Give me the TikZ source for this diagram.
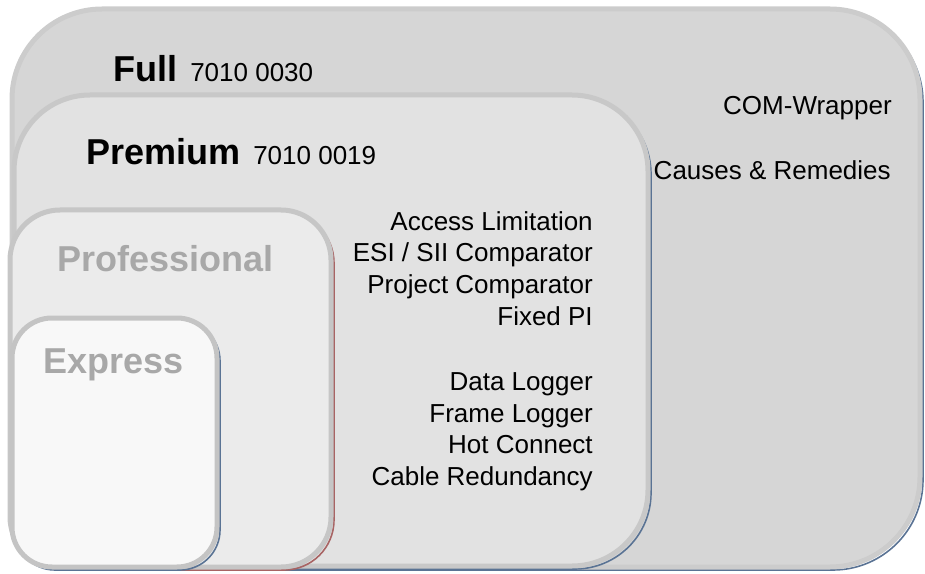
\documentclass[tikz,border=0pt]{standalone}
\usepackage{fontspec}
\setmainfont{Liberation Sans}
\definecolor{fullfill}{HTML}{D6D6D6}
\definecolor{fullline}{HTML}{CCCCCC}
\definecolor{premfill}{HTML}{E2E2E2}
\definecolor{premline}{HTML}{C8C8C8}
\definecolor{proffill}{HTML}{EBEBEB}
\definecolor{profline}{HTML}{C6C6C6}
\definecolor{exprfill}{HTML}{F8F8F8}
\definecolor{exprline}{HTML}{C4C4C4}
\definecolor{shadeblue}{HTML}{5A7394}
\definecolor{shadered}{HTML}{A86464}
\definecolor{fadedtext}{HTML}{A8A8A8}

\begin{document}
\begin{tikzpicture}[x=0.75pt,y=-0.75pt,
		edition/.style={line width=3.75pt},
		rim/.style={line width=1.2pt},
		title/.style={anchor=base west,inner sep=0pt,font=\bfseries\fontsize{27}{32}\selectfont},
		code/.style={anchor=base west,inner sep=0pt,font=\fontsize{19.5}{23}\selectfont},
		feature/.style={anchor=base east,inner sep=0pt,font=\fontsize{19.5}{23}\selectfont}]
				
				\useasboundingbox (0,0) rectangle (925,574);
				
				% Full
				\draw[rim,shadeblue,rounded corners=67.5pt] (15,12) rectangle (923,570);
				\filldraw[edition,draw=fullline,fill=fullfill,rounded corners=67.5pt] (12,9) rectangle (920,567);
				% Premium
				\draw[rim,shadeblue,rounded corners=57pt] (17,98) rectangle (651,569);
				\filldraw[edition,draw=premline,fill=premfill,rounded corners=57pt] (14,95) rectangle (648,566);
				% Professional
				\draw[rim,shadered,rounded corners=37.5pt] (13,213) rectangle (334,570);
				\filldraw[edition,draw=profline,fill=proffill,rounded corners=37.5pt] (10,210) rectangle (331,567);
				% Express
				\draw[rim,shadeblue,rounded corners=30pt] (15,321) rectangle (220,570);
				\filldraw[edition,draw=exprline,fill=exprfill,rounded corners=30pt] (12,318) rectangle (217,567);
				
				\node[title] (full) at (113,82) {Full};
				\node[code] (fullcode) at (190,82) {7010 0030};
				\node[title] (premium) at (86,165) {Premium};
				\node[code] (premcode) at (253,165) {7010 0019};
				\node[title,fadedtext] (professional) at (57,272) {Professional};
				\node[title,fadedtext] (express) at (43,373) {Express};
				
				\node[feature] (wrapper) at (892,115) {COM-Wrapper};
				\node[feature] (remedies) at (891,180) {Causes \& Remedies};
				
				\foreach \y/\t [count=\i] in {230/{Access Limitation},262/{ESI / SII Comparator},293/{Project Comparator},325/{Fixed PI},390/{Data Logger},422/{Frame Logger},453/{Hot Connect},485/{Cable Redundancy}}
					\node[feature] (feat\i) at (593,\y) {\t};
			\end{tikzpicture}
\end{document}
